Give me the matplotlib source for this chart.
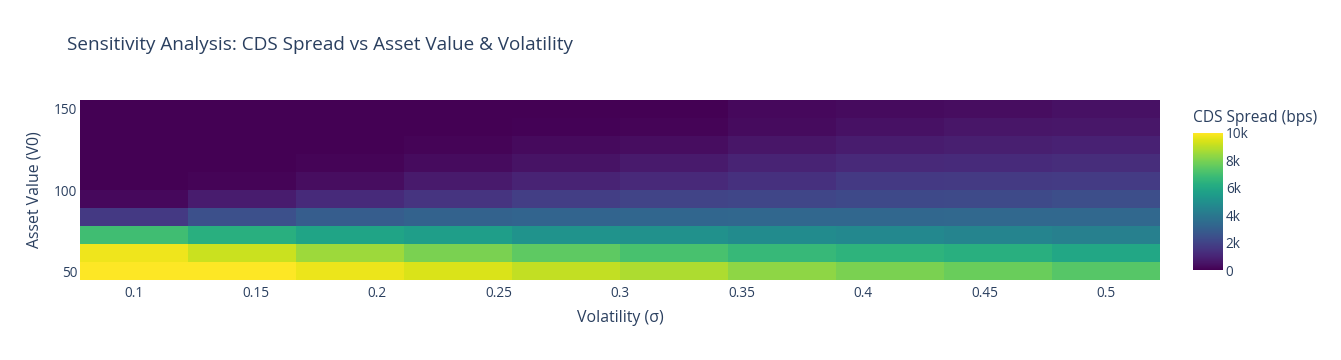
import numpy as np
import matplotlib
matplotlib.use("Agg")
import matplotlib.pyplot as plt

plt.rcParams['font.family'] = ['Open Sans', 'DejaVu Sans']

# volatility grid (x) and asset value grid (y)
volatility = [0.1, 0.1444, 0.1889, 0.2333, 0.2778, 0.3222, 0.3667, 0.4111, 0.4556, 0.5]
asset_value = [50.0, 61.11, 72.22, 83.33, 94.44, 105.56, 116.67, 127.78, 138.89, 150.0]

# CDS spread in bps, one row per asset value (bottom to top)
spread_v50 = [10000, 10000, 9700, 9450, 9100, 8750, 8300, 8000, 7700, 7350]
spread_v61 = [9750, 9200, 8550, 8000, 7500, 7100, 6700, 6450, 6300, 5950]
spread_v72 = [6950, 6300, 5850, 5550, 5150, 5000, 4800, 4650, 4500, 4300]
spread_v83 = [1650, 2450, 2900, 3100, 3200, 3250, 3300, 3300, 3350, 3350]
spread_v94 = [200, 750, 1200, 1500, 1800, 2000, 2100, 2200, 2250, 2350]
spread_v106 = [0, 100, 350, 700, 950, 1150, 1400, 1650, 1700, 1750]
spread_v117 = [0, 0, 100, 300, 500, 700, 950, 1150, 1200, 1250]
spread_v128 = [0, 0, 20, 100, 250, 350, 550, 750, 850, 900]
spread_v139 = [0, 0, 0, 0, 50, 100, 300, 450, 550, 600]
spread_v150 = [0, 0, 0, 0, 20, 30, 200, 280, 350, 450]

spread = np.array([spread_v50, spread_v61, spread_v72, spread_v83, spread_v94,
                   spread_v106, spread_v117, spread_v128, spread_v139, spread_v150])

text_color = "#2a3f5f"

fig = plt.figure(figsize=(13.41, 3.6), dpi=100)
ax = fig.add_axes([80 / 1341, 80 / 360, 1080 / 1341, 180 / 360])

mesh = ax.pcolormesh(volatility, asset_value, spread, cmap="viridis",
                     vmin=0, vmax=10000, shading="nearest")

ax.set_xticks([0.1, 0.15, 0.2, 0.25, 0.3, 0.35, 0.4, 0.45, 0.5])
ax.set_xticklabels(["0.1", "0.15", "0.2", "0.25", "0.3", "0.35", "0.4", "0.45", "0.5"])
ax.set_yticks([50, 100, 150])
ax.tick_params(axis="x", length=0, labelsize=9.8, labelcolor=text_color, pad=4)
ax.tick_params(axis="y", length=0, labelsize=9.8, labelcolor=text_color, pad=2)
for s in ax.spines.values():
    s.set_visible(False)

ax.set_xlabel("Volatility (σ)", fontsize=11.4, color=text_color, labelpad=7)
ax.set_ylabel("Asset Value (V0)", fontsize=11.4, color=text_color, labelpad=8)

fig.text(67 / 1341, 1 - 45 / 360, "Sensitivity Analysis: CDS Spread vs Asset Value & Volatility",
         fontsize=13.6, color=text_color, ha="left", va="center")

cax = fig.add_axes([1193 / 1341, 90 / 360, 30 / 1341, 137 / 360])
cbar = fig.colorbar(mesh, cax=cax)
cbar.outline.set_visible(False)
cbar.set_ticks([0, 2000, 4000, 6000, 8000, 10000])
cbar.set_ticklabels(["0", "2k", "4k", "6k", "8k", "10k"])
cax.tick_params(length=0, labelsize=9.8, labelcolor=text_color, pad=2)
fig.text(1193 / 1341, 1 - 118 / 360, "CDS Spread (bps)", fontsize=11.2,
         color=text_color, ha="left", va="center")

fig.savefig("out.png", dpi=100)
